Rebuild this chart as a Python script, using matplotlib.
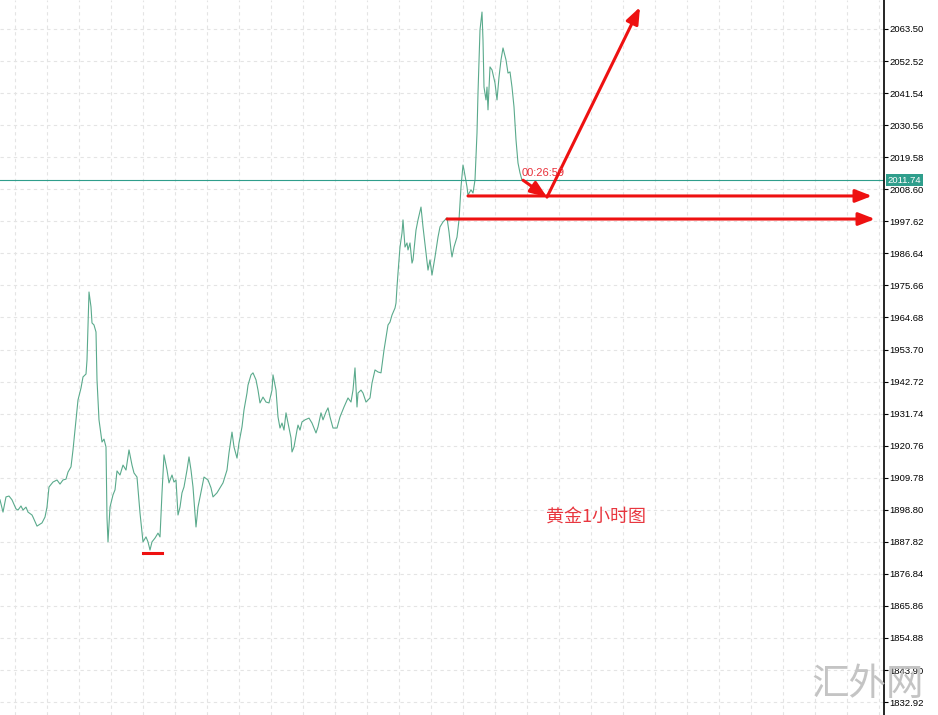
import matplotlib
matplotlib.use("Agg")
import matplotlib.pyplot as plt
import matplotlib.transforms as mtransforms
import numpy as np

# gold 1h close prices, hour offsets
hours = [0, 3, 6, 9, 12, 16, 18, 21, 23, 26, 28, 32, 33, 37, 42, 45, 47, 49, 53, 57,
         60, 63, 66, 68, 71, 73, 76, 78, 81, 83, 86, 87, 89, 91, 92, 94, 96, 97, 99, 102,
         104, 106, 107, 108, 110, 113, 115, 117, 120, 123, 126, 129,
         132, 134, 137, 140, 143, 146, 148, 150, 152, 155, 158, 160, 162, 164, 167, 169,
         172, 174, 176, 178, 180, 182, 184, 187, 189, 191, 193, 196, 198, 202, 204, 208,
         211, 213, 217, 220, 223, 227, 229, 232, 234, 237, 239, 242, 244, 247, 248, 251,
         253, 256,
         258, 260, 263, 266, 269, 272, 273, 276, 278, 280, 282, 284, 286, 288, 291, 292,
         294, 297, 298, 300, 302, 305, 309, 312, 316, 318, 321, 323, 326, 328, 330, 333,
         337, 340, 344, 348, 351, 353, 355, 357, 358, 361, 363, 366, 370, 372, 375, 378,
         381, 384, 388, 390, 392, 395, 396, 397, 398, 400, 402, 403, 405, 407, 408, 410,
         412, 413, 416, 418, 421, 423, 426, 428, 430, 432, 435, 438, 440, 443, 447, 449,
         451, 452, 454, 457, 459, 461, 463, 464, 467, 468, 471, 473, 475, 477, 478, 480,
         482, 483, 484, 486, 487, 488, 490, 492, 495, 497, 499, 501, 503, 506, 508, 510,
         512, 514, 516, 518, 520, 522]

prices = [1902.2, 1898.0, 1903.2, 1903.5, 1902.2, 1899.1, 1898.7, 1900.1, 1898.7, 1899.7,
          1898.0, 1897.0, 1896.3, 1893.2, 1894.3, 1896.3, 1899.7, 1906.6, 1908.3, 1909.0,
          1907.6, 1909.0, 1909.3, 1911.7, 1913.5, 1919.3, 1929.6, 1936.4, 1940.5, 1944.3,
          1945.3, 1950.1, 1973.4, 1968.3, 1962.8, 1962.1, 1959.7, 1943.3, 1929.6, 1922.0,
          1923.0, 1920.3, 1896.0, 1887.8, 1899.7, 1903.9, 1905.6, 1912.1, 1910.7, 1914.1,
          1912.4, 1919.3,
          1914.1, 1911.4, 1910.0, 1897.7, 1887.8, 1889.5, 1887.8, 1885.0, 1887.8, 1889.1,
          1890.8, 1889.5, 1904.6, 1917.6, 1912.4, 1908.0, 1910.7, 1908.3, 1909.0, 1897.0,
          1899.7, 1904.6, 1906.6, 1912.4, 1916.9, 1912.4, 1906.6, 1892.9, 1899.7, 1906.6,
          1910.0, 1909.0, 1906.3, 1903.2, 1904.6, 1906.3, 1908.0, 1912.4, 1918.3, 1925.4,
          1920.3, 1916.5, 1921.7, 1927.2, 1933.0, 1938.8, 1941.5, 1945.0, 1945.7, 1943.3,
          1939.8, 1935.4, 1937.4, 1935.7, 1935.4, 1939.8, 1945.0, 1939.8, 1930.6, 1926.8,
          1928.5, 1926.1, 1932.0, 1928.5, 1923.4, 1918.6, 1920.3, 1926.1, 1927.8, 1926.1,
          1928.9, 1929.6, 1930.2, 1928.5, 1925.1, 1927.2, 1932.0, 1929.6, 1932.3, 1933.7,
          1930.6, 1926.8, 1926.8, 1930.6, 1934.0, 1937.1, 1935.7, 1939.8, 1947.4, 1934.0,
          1938.8, 1939.8, 1938.8, 1935.7, 1937.1, 1942.2, 1946.7, 1946.0, 1945.7, 1953.5,
          1962.1, 1963.1, 1965.5, 1967.9, 1969.6, 1975.1, 1979.9, 1988.8, 1993.6, 1998.1,
          1988.8, 1990.2, 1987.8, 1990.2, 1983.3, 1984.4, 1994.6, 1998.1, 2002.5, 1995.7,
          1986.8, 1980.9, 1984.4, 1979.2, 1985.4, 1992.2, 1995.7, 1997.4, 1998.8, 1994.0,
          1987.8, 1985.4, 1988.8, 1992.2, 1998.1, 2009.4, 2016.9, 2015.2, 2009.4, 2006.6,
          2008.4, 2007.3, 2011.8, 2027.9, 2041.6, 2063.2, 2069.3, 2059.7, 2043.6, 2039.2,
          2043.6, 2035.8, 2050.5, 2049.5, 2045.0, 2039.2, 2047.0, 2052.9, 2057.0, 2052.9,
          2048.4, 2048.8, 2043.6, 2036.8, 2025.5, 2017.6, 2014.2, 2011.7]

current_price = 2011.74
tick_values = [1832.92 + 10.98 * k for k in range(22)]

# drawn levels / arrows (start hour, price)
level_hi = (468, 2006.3)
level_lo = (447, 1998.4)
arrow_end_hour = [872, 875]
dip_arrow = [(523, 2011.7), (547, 2005.9)]
up_arrow = [(547, 2005.9), (640, 2071.0)]
low_mark = ([143, 162], 1884.0)

red = "#ee1111"
teal = "#2f9e8c"

fig = plt.figure(figsize=(9.38, 7.15), dpi=100)
ax = fig.add_axes([0, 0, 884 / 938, 1])
ax.set_xlim(0, 884)
ax.set_ylim(1828.49, 2073.43)

# grid
ax.set_xticks(np.arange(15, 884, 32))
ax.set_yticks(tick_values)
ax.grid(True, color="#e4e4e4", linestyle=(0, (3, 3)), linewidth=0.8)
ax.tick_params(axis="x", length=0, labelbottom=False)
ax.yaxis.tick_right()
ax.tick_params(axis="y", length=3, width=0.8, pad=1, labelsize=6.8, colors="black")
ax.set_yticklabels([f"{v:.2f}" for v in tick_values], family="Liberation Sans")
for s in ["left", "top", "bottom"]:
    ax.spines[s].set_visible(False)
ax.spines["right"].set_linewidth(1.2)

ax.plot(hours, prices, color="#5aaa8c", linewidth=0.8)

# current price line + label
ax.axhline(current_price, color=teal, linewidth=0.8)
trans = mtransforms.blended_transform_factory(ax.transAxes, ax.transData)
ax.text(1.004, current_price, f"{current_price:.2f}", transform=trans, color="white",
        fontsize=6.8, family="Liberation Sans", va="center", ha="left", clip_on=False,
        bbox=dict(boxstyle="square,pad=0.15", fc=teal, ec="none"))

arrow_style = dict(arrowstyle="-|>,head_length=0.9,head_width=0.35", color=red, lw=2.2,
                   mutation_scale=11, shrinkA=0, shrinkB=0)
ax.annotate("", xy=(arrow_end_hour[0], level_hi[1]), xytext=level_hi, arrowprops=arrow_style)
ax.annotate("", xy=(arrow_end_hour[1], level_lo[1]), xytext=level_lo, arrowprops=arrow_style)
ax.annotate("", xy=dip_arrow[1], xytext=dip_arrow[0], arrowprops=arrow_style)
ax.annotate("", xy=up_arrow[1], xytext=up_arrow[0], arrowprops=arrow_style, annotation_clip=False)
ax.plot(low_mark[0], [low_mark[1]] * 2, color=red, linewidth=2.2)

ax.text(522, 2014.0, "00:26:59", color="#e8303a", fontsize=8, family="Liberation Sans",
        va="center", ha="left")
ax.text(596, 1896.3, "黄金1小时图", color="#e8363f", fontsize=13,
        family=["Noto Sans CJK SC", "DejaVu Sans"], ha="center", va="center")

# watermark sits over the price scale, as in the screenshot
fig.text(868 / 938, 1 - 685 / 715, "汇外网", color="#c4c4c4", fontsize=27,
         family=["Noto Sans CJK SC"], fontweight="light", ha="center", va="center")

fig.savefig("out.png", dpi=100)
